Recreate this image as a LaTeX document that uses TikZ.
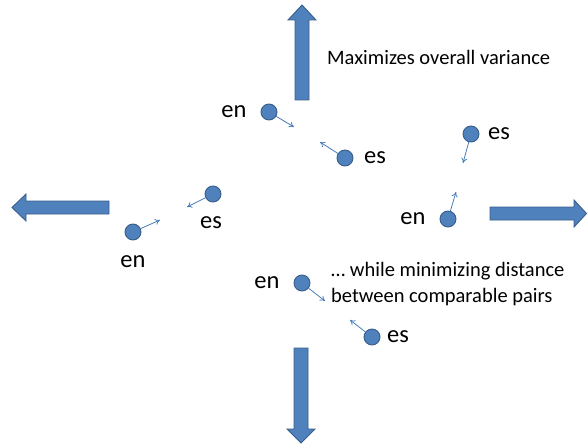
\documentclass[tikz,border=0pt]{standalone}
\usepackage{fontspec}
\setmainfont{Carlito}
\usetikzlibrary{arrows.meta}
\definecolor{fillblue}{HTML}{4F81BD}
\definecolor{edgeblue}{HTML}{385D8A}
\definecolor{linkblue}{HTML}{4A7EBB}
\begin{document}
\begin{tikzpicture}[x=1pt,y=-1pt,
  dot/.style={circle,fill=fillblue,draw=edgeblue,line width=0.9pt,minimum size=16pt,inner sep=0pt},
  lang/.style={font=\fontsize{24.5}{28}\selectfont,inner sep=0pt},
  caption/.style={font=\fontsize{20.5}{26}\selectfont,inner sep=0pt,align=left},
  link/.style={linkblue,line width=0.8pt,-{To[length=5pt,width=6pt]}},
  bigarrow/.style={fill=fillblue,draw=edgeblue,line width=0.9pt,line join=miter}]
\useasboundingbox (0,0) rectangle (587,444);
% big arrows
\draw[bigarrow] (295,100) -- (295,20) -- (288,20) -- (302,5) -- (316,20) -- (309,20) -- (309,100) -- cycle;
\draw[bigarrow] (294,348) -- (294,429) -- (287,429) -- (301,443) -- (315,429) -- (308,429) -- (308,348) -- cycle;
\draw[bigarrow] (109,201) -- (26,201) -- (26,194) -- (12,207.5) -- (26,221) -- (26,214) -- (109,214) -- cycle;
\draw[bigarrow] (490,207) -- (574,207) -- (574,200) -- (586.5,213.5) -- (574,227) -- (574,220) -- (490,220) -- cycle;
% captions
\node[caption,anchor=west] (cap1) at (327,57) {Maximizes overall variance};
\node[caption,anchor=west] (cap2) at (331,284) {\dots\ while minimizing distance\\between comparable pairs};
% top pair
\node[dot] (en1) at (269,112) {};
\node[lang] (en1l) at (234,112) {en};
\node[dot] (es1) at (345,158) {};
\node[lang] (es1l) at (375,158) {es};
\coordinate (t1) at (294,127);
\coordinate (t2) at (320,142);
\draw[link] (en1) -- (t1);
\draw[link] (es1) -- (t2);
% left pair
\node[dot] (es2) at (213,194) {};
\node[lang] (es2l) at (211,223) {es};
\node[dot] (en2) at (133,232) {};
\node[lang] (en2l) at (133,262) {en};
\coordinate (t3) at (187,207);
\coordinate (t4) at (160,220);
\draw[link] (es2) -- (t3);
\draw[link] (en2) -- (t4);
% right pair
\node[dot] (es3) at (471,134) {};
\node[lang] (es3l) at (499,134) {es};
\node[dot] (en3) at (448,219) {};
\node[lang] (en3l) at (413,219) {en};
\coordinate (t5) at (463,163);
\coordinate (t6) at (456,192);
\draw[link] (es3) -- (t5);
\draw[link] (en3) -- (t6);
% bottom pair
\node[dot] (en4) at (302,283) {};
\node[lang] (en4l) at (267,283) {en};
\node[dot] (es4) at (372,337) {};
\node[lang] (es4l) at (398,337) {es};
\coordinate (t7) at (325,301);
\coordinate (t8) at (350,320);
\draw[link] (en4) -- (t7);
\draw[link] (es4) -- (t8);
\end{tikzpicture}
\end{document}
